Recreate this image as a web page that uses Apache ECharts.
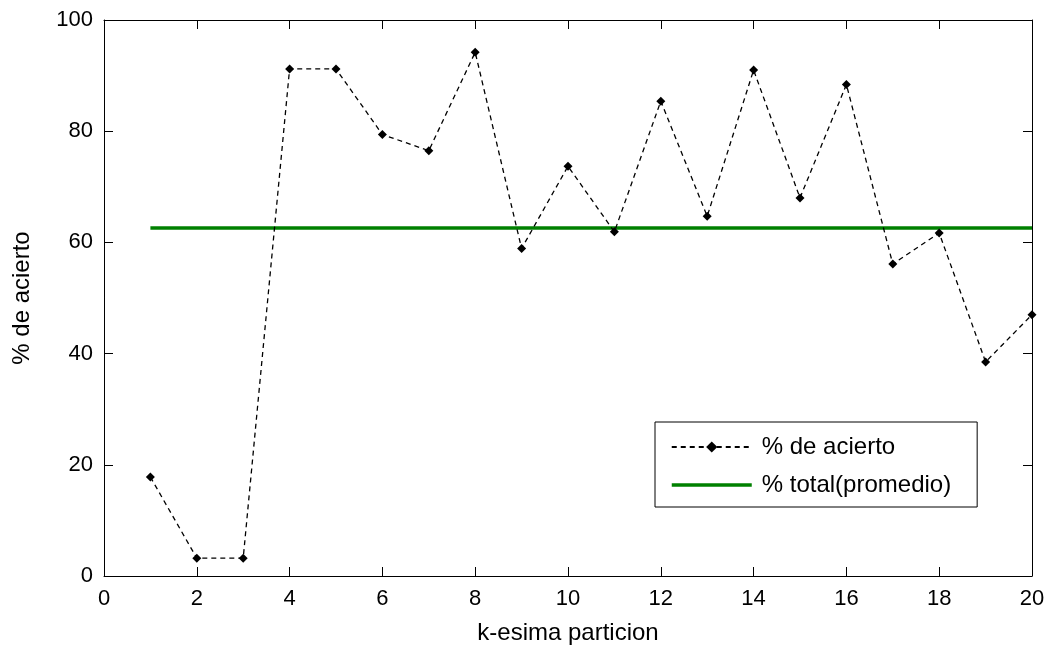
<!DOCTYPE html>
<html>
<head>
<meta charset="utf-8">
<script src="https://cdn.jsdelivr.net/npm/echarts@6/dist/echarts.min.js"></script>
<style>
html,body{margin:0;padding:0;background:#fff;}
#chart{width:1049px;height:647px;}
</style>
</head>
<body>
<div id="chart"></div>
<script>
const particiones = [1,2,3,4,5,6,7,8,9,10,11,12,13,14,15,16,17,18,19,20];
const acierto = [17.8,3.2,3.2,91.2,91.2,79.4,76.5,94.2,58.9,73.7,61.9,85.4,64.7,91.0,68.0,88.4,56.1,61.7,38.5,47.0];
const promedio = 62.6;
const xLabel = 'k-esima particion';
const yLabel = '% de acierto';
const serieNames = ['% de acierto', '% total(promedio)'];

const chart = echarts.init(document.getElementById('chart'));
const font = 'Liberation Sans, Arial, sans-serif';
function axisCommon() {
  return {
    axisLine: {show: true, onZero: false, lineStyle: {color: '#000', width: 1}},
    axisTick: {show: true, inside: true, length: 9, lineStyle: {color: '#000'}},
    splitLine: {show: false}
  };
}
chart.setOption({
  animation: false,
  backgroundColor: '#fff',
  grid: {left: 104, right: 17, top: 20, bottom: 71, containLabel: false, outerBoundsMode: 'none'},
  legend: {
    left: 655, top: 422, orient: 'vertical',
    backgroundColor: '#fff', borderColor: '#000', borderWidth: 1,
    padding: [13, 26, 10, 15], itemGap: 14, itemWidth: 80, itemHeight: 14,
    textStyle: {fontFamily: font, fontSize: 24, lineHeight: 24, color: '#000', padding: [0, 0, 0, 5]},
    data: [
      {name: serieNames[0]},
      {name: serieNames[1], itemStyle: {opacity: 0}, lineStyle: {width: 3.5, color: '#008000'}}
    ]
  },
  xAxis: [
    Object.assign(axisCommon(), {
      type: 'value', min: 0, max: 20, interval: 2, position: 'bottom',
      name: xLabel, nameLocation: 'middle', nameGap: 45,
      nameTextStyle: {fontFamily: font, fontSize: 24, color: '#000'},
      axisLabel: {fontFamily: font, fontSize: 22, color: '#000', margin: 12}
    }),
    Object.assign(axisCommon(), {
      type: 'value', min: 0, max: 20, interval: 2, position: 'top',
      axisLabel: {show: false}
    })
  ],
  yAxis: [
    Object.assign(axisCommon(), {
      type: 'value', min: 0, max: 100, interval: 20, position: 'left',
      name: yLabel, nameLocation: 'middle', nameGap: 70, nameRotate: 90,
      nameTextStyle: {fontFamily: font, fontSize: 24, color: '#000'},
      axisLabel: {fontFamily: font, fontSize: 22, color: '#000', margin: 11}
    }),
    Object.assign(axisCommon(), {
      type: 'value', min: 0, max: 100, interval: 20, position: 'right',
      axisLabel: {show: false}
    })
  ],
  series: [
    {
      name: serieNames[0], type: 'line',
      data: particiones.map((p, i) => [p, acierto[i]]),
      symbol: 'diamond', symbolSize: 9, showSymbol: true,
      itemStyle: {color: '#000'},
      lineStyle: {color: '#000', width: 1.3, type: [5, 4]},
      z: 3
    },
    {
      name: serieNames[1], type: 'line',
      data: [[particiones[0], promedio], [particiones[particiones.length - 1], promedio]],
      symbol: 'none', showSymbol: false,
      itemStyle: {color: '#008000'},
      lineStyle: {color: '#008000', width: 3.5},
      z: 2
    }
  ]
});
</script>
</body>
</html>
